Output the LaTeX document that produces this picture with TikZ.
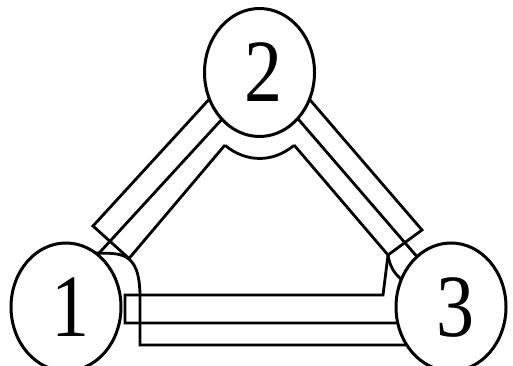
\documentclass[tikz,border=0pt]{standalone}
\usepackage{fontspec}
\setmainfont{Liberation Serif}
\usetikzlibrary{shapes.geometric}

\begin{document}
\begin{tikzpicture}[x=1pt, y=1pt, line width=2.8pt,
    vert/.style={ellipse, draw, fill=white, line width=3pt,
      minimum width=110pt, minimum height=128pt, inner sep=0pt,
      font=\fontsize{76}{76}\selectfont}]
  \useasboundingbox (0,0) rectangle (513,366);

  % edge 1--2: outer strip closed by a cap, inner strip below it
  \draw (225,284) -- (93,140) -- (129,107.5);
  \draw (235,261) -- (90,103);
  \draw (225,221) -- (129,107.5);

  % edge 2--3, its inner line runs on into the top line of edge 1--3
  \draw (292,287) -- (422,136) -- (388,111);
  \draw (280,268) -- (425,100);
  \draw (294,221) -- (388,111) -- (383,71) -- (125,71) -- (125,43) -- (430,43);

  % edge 1--3, lower strip
  \draw (93,113) .. controls (118,112) and (140,118) .. (140,69)
    -- (140,21) -- (430,21);

  % outer rims at vertices 2 and 3
  \draw (225.1,220.6) arc[start angle=238, end angle=302, x radius=65pt, y radius=86pt];
  \draw (388,111) to[bend right=20] (402,86);

  % vertices on top
  \foreach \n/\pos in {1/{66,59}, 2/{259.5,293.5}, 3/{451,59}}
    \node[vert] (v\n) at (\pos) {\hspace{8pt}\scalebox{1}[1.17]{\n}};
\end{tikzpicture}
\end{document}
